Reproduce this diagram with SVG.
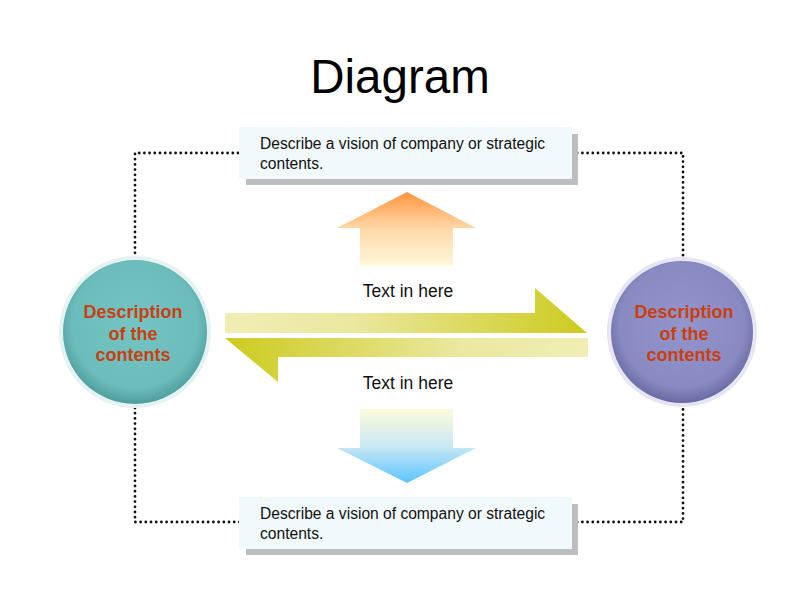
<svg xmlns="http://www.w3.org/2000/svg" width="800" height="600" viewBox="0 0 800 600">
<defs>
<linearGradient id="gR" x1="0" y1="0" x2="1" y2="0"><stop offset="0" stop-color="#f0eeb4"/><stop offset="0.35" stop-color="#ebe8a0"/><stop offset="1" stop-color="#cccb1e"/></linearGradient>
<linearGradient id="gL" x1="0" y1="0" x2="1" y2="0"><stop offset="0" stop-color="#cccb1e"/><stop offset="0.65" stop-color="#ebe8a0"/><stop offset="1" stop-color="#f0eeb4"/></linearGradient>
<linearGradient id="gUp" x1="0" y1="0" x2="0" y2="1"><stop offset="0" stop-color="#ff9540"/><stop offset="0.5" stop-color="#ffd8a8"/><stop offset="1" stop-color="#fff8dc"/></linearGradient>
<linearGradient id="gDn" x1="0" y1="0" x2="0" y2="1"><stop offset="0" stop-color="#fffadc"/><stop offset="0.5" stop-color="#c8e8f4"/><stop offset="1" stop-color="#5cc4ff"/></linearGradient>
<radialGradient id="gT" cx="0.5" cy="0.45" r="0.55"><stop offset="0" stop-color="#74c4c4"/><stop offset="0.8" stop-color="#6cbcbc"/><stop offset="1" stop-color="#4e9e9e"/></radialGradient>
<radialGradient id="gP" cx="0.5" cy="0.45" r="0.55"><stop offset="0" stop-color="#9494cc"/><stop offset="0.8" stop-color="#8a8ac2"/><stop offset="1" stop-color="#6a6aa4"/></radialGradient>
</defs>
<style>
.dot{fill:none;stroke:#111;stroke-width:2.8;stroke-dasharray:0 5.2;stroke-linecap:round}
.box{fill:#f2f9fd}
.sh{fill:#bdbdbd}
.bt{font-family:"Liberation Sans",Arial,sans-serif;font-size:15.6px;fill:#111}
.ct{font-family:"Liberation Sans",Arial,sans-serif;font-size:18px;font-weight:bold;fill:#c8400e;text-anchor:middle}
.lt{font-family:"Liberation Sans",Arial,sans-serif;font-size:17.5px;fill:#111;text-anchor:middle}
</style>
<rect width="800" height="600" fill="#fff"/>
<text x="400" y="93" font-family="Liberation Sans,Arial,sans-serif" font-size="47.5" text-anchor="middle" fill="#000">Diagram</text>
<g id="connectors">
<path class="dot" d="M135,258 V153 H240"/>
<path class="dot" d="M572,153 H683 V258"/>
<path class="dot" d="M135,408 V522 H240"/>
<path class="dot" d="M572,522 H683 V408"/>
</g>
<g id="box-top">
<rect class="sh" x="246" y="134" width="332" height="51"/>
<rect class="box" x="239" y="127" width="333" height="52"/>
<text class="bt" x="260" y="149">Describe a vision of company or strategic</text>
<text class="bt" x="260" y="169">contents.</text>
</g>
<g id="box-bottom">
<rect class="sh" x="246" y="504" width="332" height="51"/>
<rect class="box" x="239" y="497" width="333" height="52"/>
<text class="bt" x="260" y="519">Describe a vision of company or strategic</text>
<text class="bt" x="260" y="539">contents.</text>
</g>
<g id="arrow-up"><path d="M407,192 L476,228 H453 V266 H360 V228 H337 Z" fill="url(#gUp)"/></g>
<g id="arrow-down"><path d="M360,409 H453 V448 H476 L407,483 L337,448 H360 Z" fill="url(#gDn)"/></g>
<g id="arrow-right"><path d="M225,313 H535 V288 L587,333 H225 Z" fill="url(#gR)"/></g>
<g id="arrow-left"><path d="M225,338 H588 V357 H278 V382 Z" fill="url(#gL)"/></g>
<text class="lt" x="408" y="297">Text in here</text>
<text class="lt" x="408" y="389">Text in here</text>
<g id="circle-left">
<circle cx="135" cy="332" r="76" fill="#e4f2f2"/>
<circle cx="135" cy="332" r="72" fill="url(#gT)"/>
<text class="ct" x="133" y="318">Description</text>
<text class="ct" x="133" y="340">of the</text>
<text class="ct" x="133" y="361">contents</text>
</g>
<g id="circle-right">
<circle cx="682" cy="332" r="75" fill="#e6e6f2"/>
<circle cx="682" cy="332" r="71" fill="url(#gP)"/>
<text class="ct" x="684" y="318">Description</text>
<text class="ct" x="684" y="340">of the</text>
<text class="ct" x="684" y="361">contents</text>
</g>
</svg>
